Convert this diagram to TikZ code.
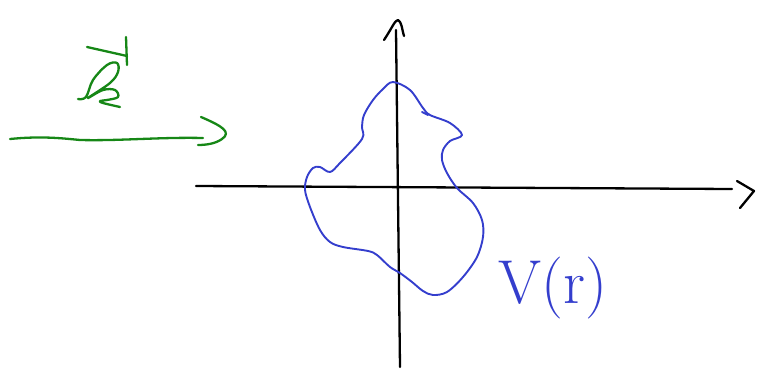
\documentclass[tikz,border=0pt]{standalone}
\usetikzlibrary{arrows.meta,positioning}
\definecolor{inkblue}{RGB}{52,62,205}
\definecolor{inkgreen}{RGB}{22,135,22}
\begin{document}
\begin{tikzpicture}[x=1pt,y=-1pt]
\tikzset{
  axis/.style={line width=2.3pt,black,line cap=round,line join=round},
  potential/.style={line width=1.9pt,inkblue,line cap=round,line join=round},
  greenink/.style={line width=2.3pt,inkgreen,line cap=round,line join=round},
  label/.style={inner sep=0pt,text=inkblue,font=\fontsize{62}{66}\selectfont}
}
\useasboundingbox (0,0) rectangle (757,372);
% axes
\coordinate (x_left) at (196,186);
\coordinate (x_right) at (732,189);
\coordinate (y_bot) at (400,367);
\coordinate (y_top) at (396,30);
\draw[axis] (x_left) -- (x_right);
\draw[axis] (y_bot) -- (y_top);
\draw[axis] (737,181) -- (754,191) -- (740,208);
\draw[axis] (384,40) .. controls (392,28) and (395,20) .. (398,20) .. controls (402,22) and (402,30) .. (404,36);
% closed potential curve
\draw[potential] plot[smooth cycle,tension=0.55] coordinates {
  (393,82) (410,90) (423,108) (430,115) (450,123) (462,135) (450,141)
  (443,150) (442,160) (447,173) (457,188) (473,203) (482,220) (483,237)
  (477,257) (463,277) (447,292) (433,295) (423,291) (412,282) (400,273)
  (390,267) (377,255) (368,251) (343,247) (330,242) (320,230) (310,207)
  (305,190) (307,177) (313,168) (320,167) (330,172) (340,163) (362,139)
  (362,127) (364,115) (373,100) (383,89)};
\draw[potential] (422,112) -- (428,115);
\node[label] (n_V) at (553,288) {V(r)};
% green time arrow
\draw[greenink] (10,139) .. controls (40,136) and (60,138) .. (80,140)
  .. controls (120,141) and (160,137) .. (203,138);
\draw[greenink] (201,117) .. controls (222,126) and (232,132) .. (222,139)
  .. controls (215,144) and (205,145) .. (198,145);
% green handwriting
\draw[greenink] (87,47) -- (127,56);
\draw[greenink] (126,37) -- (127,65);
\draw[greenink] plot[smooth,tension=0.6] coordinates {
  (78,99) (86,97) (93,80) (107,65) (117,63) (118,72) (110,83) (88,98)
  (103,90) (115,90) (118,97) (107,100) (100,101) (103,103) (120,107)};
\end{tikzpicture}
\end{document}
